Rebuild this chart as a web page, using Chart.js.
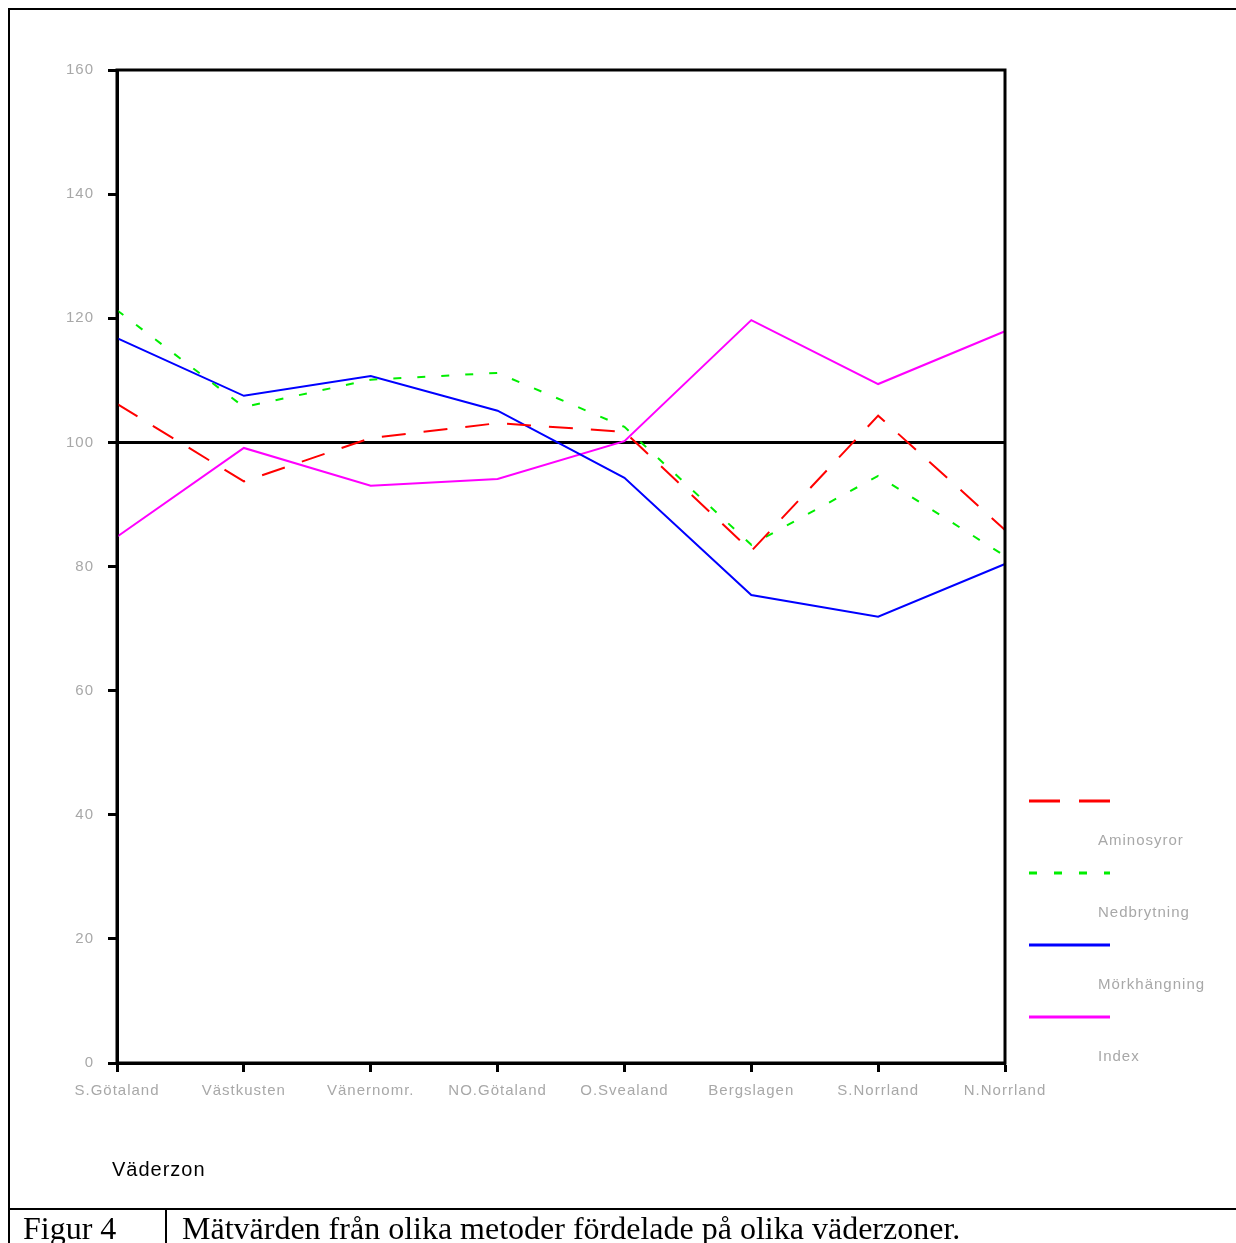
<!DOCTYPE html>
<html>
<head>
    <title>Väderzon</title>
    <meta charset="UTF-8">
    <script src="https://cdn.jsdelivr.net/npm/chart.js@4.4.1/dist/chart.umd.min.js"></script>
    <style>
        body { margin: 0; background: #fff; }
        #page { position: relative; width: 1236px; height: 1243px; overflow: hidden; background: #fff; }
        #frame { position: absolute; left: 8px; top: 8px; width: 1260px; height: 1300px; border: 2px solid #000; box-sizing: border-box; }
        #capline { position: absolute; left: 8px; top: 1208px; width: 1240px; height: 2px; background: #000; }
        #capdiv { position: absolute; left: 165px; top: 1208px; width: 2px; height: 40px; background: #000; }
        .cap { position: absolute; top: 1212px; font-family: "Liberation Serif", serif; font-size: 32px; line-height: 32px; color: #000; white-space: nowrap; }
        #myChart { position: absolute; left: 0; top: 0; }
        #xtitle { position: absolute; left: 112px; top: 1158px; font-family: "Liberation Sans", Arial, sans-serif; font-size: 20px; color: #000; letter-spacing: 1px; }
    </style>
</head>
<body>
<div id="page">
    <div id="frame"></div>
    <canvas id="myChart" width="1234" height="1200"></canvas>
    <div id="xtitle">Väderzon</div>
    <div id="capline"></div>
    <div id="capdiv"></div>
    <div class="cap" style="left:23px">Figur 4</div>
    <div class="cap" style="left:182px">Mätvärden från olika metoder fördelade på olika väderzoner.</div>
</div>
<script>
    // weather zones along the x axis
    let zones = ['S.Götaland', 'Västkusten', 'Vänernomr.', 'NO.Götaland', 'O.Svealand', 'Bergslagen', 'S.Norrland', 'N.Norrland'];

    // values
    let aminosyror  = [106.2, 93.7, 100.7, 103.1, 101.7, 82.5, 104.3, 85.9];
    let nedbrytning = [121.3, 105.7, 110.1, 111.2, 102.5, 83.5, 94.6, 81.7];
    let morkhangning = [116.8, 107.5, 110.7, 105.1, 94.3, 75.4, 71.9, 80.4];
    let indexVals   = [84.8, 99.1, 93.0, 94.1, 100.2, 119.7, 109.4, 117.9];

    let yTicks = [0, 20, 40, 60, 80, 100, 120, 140, 160];
    let refValue = 100;

    const tickFont = { family: '"Liberation Sans", Arial, sans-serif', size: 15 };
    const grey = '#a8a8a8';

    const framePlugin = {
        id: 'framePlugin',
        beforeUpdate(chart) { chart.ctx.letterSpacing = '1px'; },
        beforeDraw(chart) { chart.ctx.letterSpacing = '1px'; },
        beforeDatasetsDraw(chart) {
            const ctx = chart.ctx, a = chart.chartArea;
            const py = chart.scales.y.getPixelForValue(refValue);
            ctx.save();
            ctx.strokeStyle = '#000';
            ctx.lineWidth = 3;
            ctx.beginPath();
            ctx.moveTo(a.left, py);
            ctx.lineTo(a.right, py);
            ctx.stroke();
            ctx.restore();
        },
        afterDraw(chart) {
            const ctx = chart.ctx, a = chart.chartArea;
            ctx.save();
            ctx.strokeStyle = '#000';
            ctx.lineWidth = 3;
            ctx.strokeRect(a.left, a.top, a.right - a.left, a.bottom - a.top);

            // legend at the right, line above label
            chart.data.datasets.forEach(function (ds, i) {
                const ly = 801 + 72 * i;
                ctx.strokeStyle = ds.borderColor;
                ctx.lineWidth = 3;
                ctx.setLineDash(ds.legendDash || []);
                ctx.beginPath();
                ctx.moveTo(1029, ly);
                ctx.lineTo(1110, ly);
                ctx.stroke();
                ctx.setLineDash([]);
                ctx.fillStyle = grey;
                ctx.letterSpacing = '1px';
                ctx.font = '15px "Liberation Sans", Arial, sans-serif';
                ctx.textBaseline = 'middle';
                ctx.fillText(ds.label, 1098, ly + 40);
            });
            ctx.restore();
        }
    };

    function drawChart() {
        var ctx = document.getElementById('myChart').getContext('2d');
        new Chart(ctx, {
            type: 'line',
            data: {
                labels: zones,
                datasets: [{
                    label: 'Aminosyror',
                    data: aminosyror,
                    borderColor: '#ff0000',
                    borderDash: [24, 18],
                    legendDash: [31, 19]
                }, {
                    label: 'Nedbrytning',
                    data: nedbrytning,
                    borderColor: '#00ee00',
                    borderDash: [8, 16],
                    legendDash: [8, 17]
                }, {
                    label: 'Mörkhängning',
                    data: morkhangning,
                    borderColor: '#0000ff'
                }, {
                    label: 'Index',
                    data: indexVals,
                    borderColor: '#ff00ff'
                }]
            },
            options: {
                responsive: false,
                animation: false,
                elements: {
                    line: { borderWidth: 2, tension: 0, fill: false },
                    point: { radius: 0, hoverRadius: 0 }
                },
                layout: { padding: { left: 0, right: 229, top: 70, bottom: 77 } },
                plugins: { legend: { display: false }, tooltip: { enabled: false } },
                scales: {
                    x: {
                        offset: false,
                        afterFit: function (s) { s.height = 60; },
                        grid: { offset: false, drawOnChartArea: false, drawTicks: true, tickLength: 9, tickColor: '#000', tickWidth: 3 },
                        border: { color: '#000', width: 3 },
                        ticks: { color: grey, font: tickFont, autoSkip: false, maxRotation: 0, padding: 10 }
                    },
                    y: {
                        min: 0,
                        max: 160,
                        afterFit: function (s) { s.width = 117; },
                        afterBuildTicks: function (s) { s.ticks = yTicks.map(function (v) { return { value: v }; }); },
                        grid: { drawOnChartArea: false, drawTicks: true, tickLength: 9, tickColor: '#000', tickWidth: 3 },
                        border: { color: '#000', width: 3 },
                        ticks: { color: grey, font: tickFont, padding: 14 }
                    }
                }
            },
            plugins: [framePlugin]
        });
    }

    drawChart();
</script>
</body>
</html>
